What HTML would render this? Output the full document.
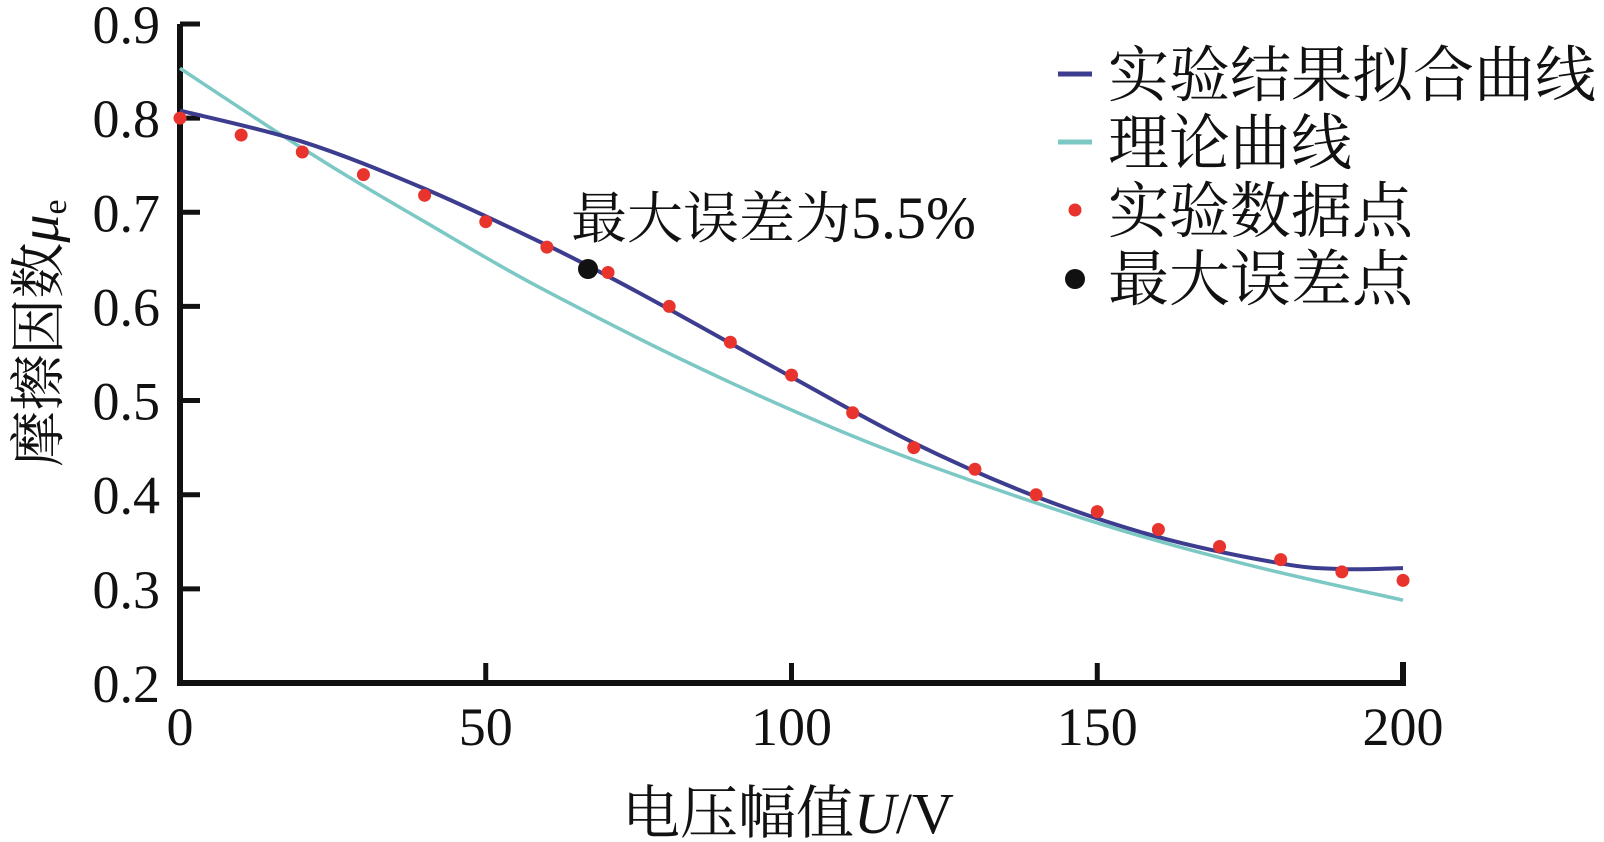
<!DOCTYPE html>
<html><head><meta charset="utf-8"><style>
html,body{margin:0;padding:0;background:#fff;}
svg{display:block}
text{font-family:"Liberation Serif","Noto Serif CJK SC",serif;fill:#111}
</style></head><body>
<svg id="s" width="1604" height="842" viewBox="0 0 1604 842" xmlns="http://www.w3.org/2000/svg">
<g id="ticks" stroke="#111" stroke-width="5" fill="none"></g>
<path d="M180,24 L180,683 L1403,683 L1403,662" stroke="#111" stroke-width="6" fill="none"/>
<g id="labels" font-size="54"></g>
<path id="theory" stroke="#7cc8c4" stroke-width="3.5" fill="none"/>
<path id="fit" stroke="#3d3d8f" stroke-width="4" fill="none"/>
<g id="dots" fill="#e8342c"></g>
<circle cx="588" cy="269" r="10" fill="#111"/>
<text x="571" y="238" font-size="56">最大误差为<tspan font-family="Liberation Serif" font-size="60">5.5%</tspan></text>
<line x1="1058" y1="74" x2="1092" y2="74" stroke="#3d3d8f" stroke-width="5"/>
<line x1="1058" y1="142" x2="1092" y2="142" stroke="#7cc8c4" stroke-width="5"/>
<circle cx="1075" cy="210" r="6.5" fill="#e8342c"/>
<circle cx="1075" cy="279" r="10" fill="#111"/>
<text x="1108" y="96" font-size="61">实验结果拟合曲线</text>
<text x="1108" y="164" font-size="61">理论曲线</text>
<text x="1108" y="232" font-size="61">实验数据点</text>
<text x="1108" y="300" font-size="61">最大误差点</text>
<text x="622" y="833" font-size="58">电压幅值<tspan font-family="Liberation Serif" font-style="italic">U</tspan><tspan font-family="Liberation Serif">/V</tspan></text>
<text transform="translate(58,333) rotate(-90)" text-anchor="middle" font-size="56">摩擦因数<tspan font-style="italic">μ</tspan><tspan font-size="34" dy="8">e</tspan></text>
</svg>
<script>
const X=v=>180+v*6.115, Y=m=>24+(0.9-m)*941.4;
const ns="http://www.w3.org/2000/svg";
const tk=document.getElementById('ticks'), lb=document.getElementById('labels');
function el(p,t,a,txt){const e=document.createElementNS(ns,t);for(const k in a)e.setAttribute(k,a[k]);if(txt)e.textContent=txt;p.appendChild(e);}
for(let i=0;i<=7;i++){const m=0.2+i*0.1,y=Y(m);
 if(i>0)el(tk,'line',{x1:180,y1:y,x2:200,y2:y});
 el(lb,'text',{x:160,y:y+19,'text-anchor':'end'},m.toFixed(1));}
[0,50,100,150,200].forEach(v=>{const x=X(v);
 if(v>0&&v<200)el(tk,'line',{x1:x,y1:683,x2:x,y2:663});
 el(lb,'text',{x:x,y:745,'text-anchor':'middle'},String(v));});
function cr(pts){let d=`M${X(pts[0][0])},${Y(pts[0][1])}`;
 const P=pts.map(p=>[X(p[0]),Y(p[1])]);
 for(let i=0;i<P.length-1;i++){const p0=P[Math.max(0,i-1)],p1=P[i],p2=P[i+1],p3=P[Math.min(P.length-1,i+2)];
  d+=` C${p1[0]+(p2[0]-p0[0])/6},${p1[1]+(p2[1]-p0[1])/6} ${p2[0]-(p3[0]-p1[0])/6},${p2[1]-(p3[1]-p1[1])/6} ${p2[0]},${p2[1]}`;}
 return d;}
document.getElementById('fit').setAttribute('d',cr([[0,0.808],[20,0.775],[40,0.725],[60,0.665],[70,0.632],[80,0.597],[100,0.525],[120,0.455],[140,0.398],[160,0.355],[180,0.327],[190,0.321],[200,0.322]]));
document.getElementById('theory').setAttribute('d',cr([[0,0.853],[10,0.81],[20,0.768],[30,0.728],[40,0.69],[50,0.652],[60,0.616],[80,0.55],[100,0.49],[120,0.437],[150,0.37],[175,0.325],[200,0.288]]));
const d=[0.80,0.782,0.764,0.74,0.718,0.69,0.663,0.636,0.60,0.562,0.527,0.487,0.45,0.427,0.40,0.382,0.363,0.345,0.331,0.318,0.309];
const dg=document.getElementById('dots');
d.forEach((m,i)=>el(dg,'circle',{cx:X(i*10),cy:Y(m),r:6.5}));
</script>
</body></html>
